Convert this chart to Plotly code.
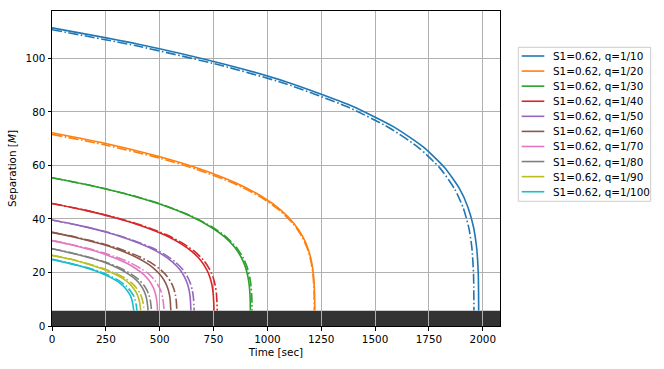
import plotly.graph_objects as go

labels = ["S1=0.62, q=1/10", "S1=0.62, q=1/20", "S1=0.62, q=1/30", "S1=0.62, q=1/40",
          "S1=0.62, q=1/50", "S1=0.62, q=1/60", "S1=0.62, q=1/70", "S1=0.62, q=1/80",
          "S1=0.62, q=1/90", "S1=0.62, q=1/100"]
colors = ["#1f77b4", "#ff7f0e", "#2ca02c", "#d62728", "#9467bd",
          "#8c564b", "#e377c2", "#7f7f7f", "#bcbd22", "#17becf"]

# Separation [M] (solid curves)
sep_solid = [
    [111.4, 105.4, 98.0, 91.2, 82.4, 74.5, 66.9, 59.2, 51.3, 44.3, 36.9, 29.6, 19.8, 5.8],
    [72.2, 68.3, 63.5, 59.1, 53.4, 48.3, 43.4, 38.4, 33.3, 28.7, 23.9, 19.2, 12.8, 5.8],
    [55.4, 52.4, 48.8, 45.4, 41.0, 37.0, 33.3, 29.5, 25.5, 22.0, 18.3, 14.7, 9.9, 5.8],
    [45.8, 43.3, 40.3, 37.5, 33.9, 30.6, 27.5, 24.4, 21.1, 18.2, 15.2, 12.2, 8.1, 5.8],
    [39.6, 37.5, 34.9, 32.4, 29.3, 26.5, 23.8, 21.1, 18.2, 15.7, 13.1, 10.5, 7.0, 5.8],
    [35.0, 33.1, 30.8, 28.7, 25.9, 23.4, 21.0, 18.6, 16.1, 13.9, 11.6, 9.3, 6.2, 5.8],
    [31.9, 30.2, 28.1, 26.1, 23.6, 21.3, 19.2, 17.0, 14.7, 12.7, 10.6, 8.5, 5.8],
    [28.9, 27.3, 25.4, 23.7, 21.4, 19.3, 17.4, 15.4, 13.3, 11.5, 9.6, 7.7, 5.8],
    [26.4, 25.0, 23.2, 21.6, 19.5, 17.7, 15.9, 14.0, 12.2, 10.5, 8.7, 7.0, 5.8],
    [24.9, 23.5, 21.9, 20.4, 18.4, 16.7, 15.0, 13.2, 11.5, 9.9, 8.2, 6.6, 5.8],
]
# Separation [M] (dash-dot curves)
sep_dashdot = [
    [110.7, 104.7, 97.4, 90.7, 81.9, 74.0, 66.5, 58.9, 51.0, 44.0, 36.6, 29.4, 19.7, 5.8],
    [71.6, 67.7, 63.0, 58.6, 53.0, 47.9, 43.0, 38.1, 33.0, 28.5, 23.7, 19.0, 12.7, 5.8],
    [55.4, 52.4, 48.8, 45.4, 41.0, 37.0, 33.3, 29.5, 25.5, 22.0, 18.3, 14.7, 9.9, 5.8],
    [45.8, 43.3, 40.3, 37.5, 33.9, 30.6, 27.5, 24.4, 21.1, 18.2, 15.2, 12.2, 8.1, 5.8],
    [39.6, 37.5, 34.9, 32.4, 29.3, 26.5, 23.8, 21.1, 18.2, 15.7, 13.1, 10.5, 7.0, 5.8],
    [35.0, 33.1, 30.8, 28.7, 25.9, 23.4, 21.0, 18.6, 16.1, 13.9, 11.6, 9.3, 6.2, 5.8],
    [31.9, 30.2, 28.1, 26.1, 23.6, 21.3, 19.2, 17.0, 14.7, 12.7, 10.6, 8.5, 5.8],
    [28.9, 27.3, 25.4, 23.7, 21.4, 19.3, 17.4, 15.4, 13.3, 11.5, 9.6, 7.7, 5.8],
    [26.4, 25.0, 23.2, 21.6, 19.5, 17.7, 15.9, 14.0, 12.2, 10.5, 8.7, 7.0, 5.8],
    [24.9, 23.5, 21.9, 20.4, 18.4, 16.7, 15.0, 13.2, 11.5, 9.9, 8.2, 6.6, 5.8],
]
# Time [sec] (solid curves)
time_solid = [
    [0, 396.2, 792.4, 1089.6, 1386.7, 1584.8, 1723.5, 1822.5, 1891.9, 1931.5, 1957.2, 1971.1, 1979.0, 1981],
    [0, 244, 488, 671, 854, 976, 1061.4, 1122.4, 1165.1, 1189.5, 1205.4, 1213.9, 1218.8, 1220],
    [0, 184.2, 368.4, 506.6, 644.7, 736.8, 801.3, 847.3, 879.6, 898.0, 909.9, 916.4, 920.1, 921],
    [0, 150.4, 300.8, 413.6, 526.4, 601.6, 654.2, 691.8, 718.2, 733.2, 743.0, 748.2, 751.2, 752],
    [0, 129, 258, 354.8, 451.5, 516, 561.2, 593.4, 616.0, 628.9, 637.3, 641.8, 644.4, 645],
    [0, 110.4, 220.8, 303.6, 386.4, 441.6, 480.2, 507.8, 527.2, 538.2, 545.4, 549.2, 551.4, 552],
    [0, 98, 196, 269.5, 343, 392, 426.3, 450.8, 468.0, 477.8, 484.1, 487.6, 490],
    [0, 89.2, 178.4, 245.3, 312.2, 356.8, 388.0, 410.3, 426.0, 434.9, 440.6, 443.8, 446],
    [0, 82.4, 164.8, 226.6, 288.4, 329.6, 358.4, 379.0, 393.5, 401.7, 407.1, 409.9, 412],
    [0, 76, 152, 209, 266, 304, 330.6, 349.6, 362.9, 370.5, 375.4, 378.1, 380],
]
# Time [sec] (dash-dot curves)
time_dashdot = [
    [0, 391.8, 783.6, 1077.5, 1371.3, 1567.2, 1704.3, 1802.3, 1870.9, 1910.0, 1935.5, 1949.2, 1957.0, 1959],
    [0, 243.6, 487.2, 669.9, 852.6, 974.4, 1059.7, 1120.6, 1163.2, 1187.6, 1203.4, 1211.9, 1216.8, 1218],
    [0, 185.8, 371.6, 511.0, 650.3, 743.2, 808.2, 854.7, 887.2, 905.8, 917.9, 924.4, 928.1, 929],
    [0, 153.4, 306.8, 421.9, 536.9, 613.6, 667.3, 705.6, 732.5, 747.8, 757.8, 763.2, 766.2, 767],
    [0, 132, 264, 363, 462, 528, 574.2, 607.2, 630.3, 643.5, 652.1, 656.7, 659.3, 660],
    [0, 116, 232, 319, 406, 464, 504.6, 533.6, 553.9, 565.5, 573.0, 577.1, 579.4, 580],
    [0, 104, 208, 286, 364, 416, 452.4, 478.4, 496.6, 507, 513.8, 517.4, 520],
    [0, 92.4, 184.8, 254.1, 323.4, 369.6, 401.9, 425.0, 441.2, 450.5, 456.5, 459.7, 462],
    [0, 85.6, 171.2, 235.4, 299.6, 342.4, 372.4, 393.8, 408.7, 417.3, 422.9, 425.9, 428],
    [0, 79, 158, 217.3, 276.5, 316, 343.7, 363.4, 377.2, 385.1, 390.3, 393.0, 395],
]
x_ticks = [0, 250, 500, 750, 1000, 1250, 1500, 1750, 2000]
y_ticks = [0, 20, 40, 60, 80, 100]
band_top = 5.7

FONT = "DejaVu Sans, Verdana, sans-serif"
FS = 10.4
LW = 1.6

fig = go.Figure()
for i in range(len(labels)):
    fig.add_trace(go.Scatter(x=time_solid[i], y=sep_solid[i], mode="lines", name=labels[i],
                             line=dict(color=colors[i], width=LW, shape="spline", smoothing=0.6),
                             showlegend=False))
    fig.add_trace(go.Scatter(x=time_dashdot[i], y=sep_dashdot[i], mode="lines",
                             line=dict(color=colors[i], width=LW, shape="spline", smoothing=0.6,
                                       dash="10px,2.5px,1.6px,2.5px"),
                             showlegend=False))

# dark band at the bottom
fig.add_shape(type="rect", xref="x domain", yref="y", x0=0, x1=1, y0=0, y1=band_top,
              fillcolor="#333333", line=dict(width=0), layer="below")

# manual legend (matplotlib style)
L, T = 52, 11
W, H = 448, 315
def px(x):
    return (x - L) / W
def py(y):
    return (T + H - y) / H

fig.add_shape(type="rect", xref="paper", yref="paper", x0=px(518.3), x1=px(650.7),
              y0=py(201.3), y1=py(47.3), line=dict(color="#cccccc", width=1),
              fillcolor="rgba(255,255,255,0.8)")
for i, lab in enumerate(labels):
    yc = 56.0 + 15.08 * i
    fig.add_shape(type="line", xref="paper", yref="paper", x0=px(521.7), x1=px(544.3),
                  y0=py(yc), y1=py(yc), line=dict(color=colors[i], width=LW))
    fig.add_annotation(xref="paper", yref="paper", x=px(550.7), y=py(yc), text=lab,
                       showarrow=False, xanchor="left", yanchor="middle",
                       font=dict(family=FONT, size=FS, color="black"))

axis_common = dict(showgrid=True, gridcolor="#b0b0b0", gridwidth=0.8, showline=True,
                   linecolor="black", linewidth=1, mirror=True, ticks="outside",
                   ticklen=3.5, tickwidth=0.8, tickcolor="black", zeroline=False,
                   automargin=False,
                   tickfont=dict(family=FONT, size=FS, color="black"))

fig.update_layout(
    width=664, height=369,
    margin=dict(l=L, r=664 - L - W, t=T, b=369 - T - H),
    plot_bgcolor="white", paper_bgcolor="white",
    font=dict(family=FONT, size=FS, color="black"),
    showlegend=False,
    xaxis=dict(range=[0, 2080], tickvals=x_ticks,
               title=dict(text="Time [sec]", font=dict(family=FONT, size=FS), standoff=4),
               **axis_common),
    yaxis=dict(range=[0, 117.7], tickvals=y_ticks,
               title=dict(text="Separation [<i>M</i>]", font=dict(family=FONT, size=FS), standoff=6),
               **axis_common),
)

fig.write_html("out.html", config={"displayModeBar": False},
               post_script="document.body.style.margin='0';document.body.style.padding='0';")
